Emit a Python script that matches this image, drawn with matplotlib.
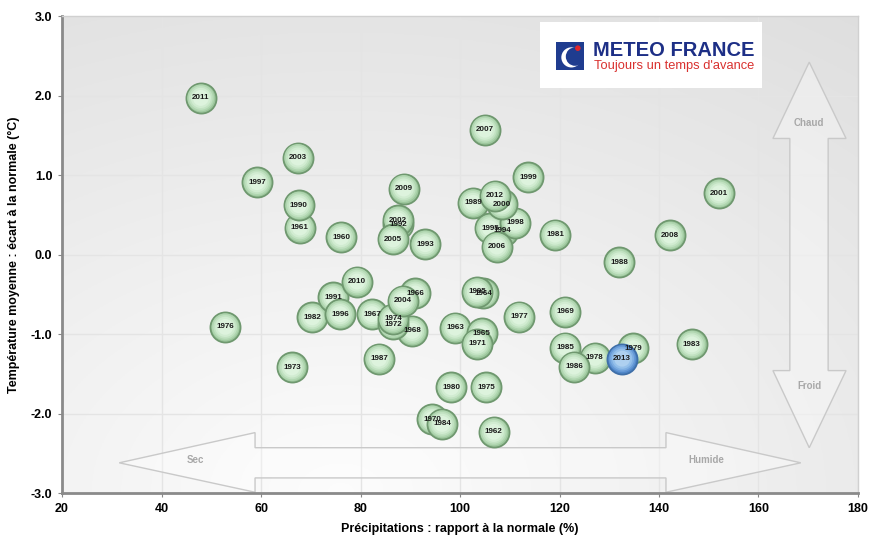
import numpy as np
import matplotlib
matplotlib.use("Agg")
import matplotlib.pyplot as plt
from matplotlib import font_manager
from matplotlib.patches import Polygon, Rectangle, Circle

# data
years = ['1960', '1961', '1962', '1963', '1964', '1965', '1966', '1967', '1968', '1969',
         '1970', '1971', '1972', '1973', '1974', '1975', '1976', '1977', '1978', '1979',
         '1980', '1981', '1982', '1983', '1984', '1985', '1986', '1987', '1988', '1989',
         '1990', '1991', '1992', '1993', '1994', '1995', '1995', '1996', '1997', '1998',
         '1999', '2000', '2001', '2002', '2003', '2004', '2005', '2006', '2007', '2008',
         '2009', '2010', '2011', '2012', '2013']
precip = [76.1, 67.8, 106.8, 99.0, 104.6, 104.4, 91.0, 82.3, 90.4, 121.1,
          94.4, 103.4, 86.5, 66.2, 86.5, 105.2, 52.8, 111.9, 127.1, 134.8,
          98.2, 119.1, 70.3, 146.6, 96.4, 121.1, 122.9, 83.7, 132.0, 102.6,
          67.6, 74.5, 87.5, 93.0, 108.6, 103.4, 106.0, 75.9, 59.2, 111.1,
          113.7, 108.4, 152.1, 87.5, 67.4, 88.5, 86.5, 107.4, 105.0, 142.2,
          88.7, 79.3, 47.9, 107.0, 132.6]
temp = [0.22, 0.34, -2.23, -0.92, -0.49, -0.99, -0.49, -0.75, -0.96, -0.72,
        -2.07, -1.12, -0.88, -1.42, -0.81, -1.67, -0.91, -0.78, -1.30, -1.18,
        -1.67, 0.25, -0.79, -1.13, -2.13, -1.17, -1.41, -1.31, -0.10, 0.65,
        0.62, -0.54, 0.38, 0.13, 0.30, -0.47, 0.33, -0.75, 0.91, 0.40,
        0.97, 0.63, 0.77, 0.43, 1.22, -0.58, 0.19, 0.10, 1.57, 0.24,
        0.83, -0.34, 1.97, 0.74, -1.31]
highlight = '2013'

xticks = [20, 40, 60, 80, 100, 120, 140, 160, 180]
yticks = [-3.0, -2.0, -1.0, 0.0, 1.0, 2.0, 3.0]

names = {f.name for f in font_manager.fontManager.ttflist}
narrow = 'Liberation Sans Narrow' if 'Liberation Sans Narrow' in names else 'Liberation Sans'

fig = plt.figure(figsize=(8.7, 5.4), dpi=100)
fig.patch.set_facecolor('white')
ax = fig.add_axes([0.0713, 0.087, 0.9149, 0.8833])
ax.set_xlim(20, 180)
ax.set_ylim(-3, 3)

# background gradient of the plot area
u = np.linspace(0, 1, 300)
v = np.linspace(0, 1, 200)
U, V = np.meshgrid(u, v)
dist = np.sqrt(((U - 0.35) / 0.9) ** 2 + V ** 2)
grey = np.clip(0.99 - 0.095 * dist, 0, 1)
bg = np.dstack([grey, grey, grey])
ax.imshow(bg, extent=[20, 180, -3, 3], origin='lower', aspect='auto', zorder=0)

for t in xticks:
    ax.axvline(t, color='#e4e4e4', lw=1, zorder=1)
for t in yticks:
    ax.axhline(t, color='#e4e4e4', lw=1, zorder=1)

# block arrows
arrow_kw = dict(closed=True, facecolor=(1, 1, 1, 0.35), edgecolor='#c9c9c9', lw=1, zorder=2)
horiz = [(31.5, -2.62), (58.8, -2.24), (58.8, -2.43), (141.4, -2.43), (141.4, -2.24),
         (168.5, -2.62), (141.4, -2.99), (141.4, -2.81), (58.8, -2.81), (58.8, -2.99)]
vert = [(170.2, 2.42), (177.6, 1.46), (174.0, 1.46), (174.0, -1.46), (177.6, -1.46),
        (170.2, -2.43), (162.9, -1.46), (166.3, -1.46), (166.3, 1.46), (162.9, 1.46)]
ax.add_patch(Polygon(horiz, **arrow_kw))
ax.add_patch(Polygon(vert, **arrow_kw))
lab_kw = dict(color='#a8a8a8', fontsize=7, fontweight='bold', family=narrow,
              ha='center', va='center', zorder=3)
ax.text(46.9, -2.58, 'Sec', **lab_kw)
ax.text(149.6, -2.58, 'Humide', **lab_kw)
ax.text(170.2, 1.65, 'Chaud', **lab_kw)
ax.text(170.2, -1.65, 'Froid', **lab_kw)

# shaded bubbles
green = ['#9cc69c', '#b0d6b0', '#c2e2c2', '#d1ecd1', '#ddf3dd']
blue = ['#4f86c8', '#6699d6', '#7eaee2', '#95c0ea', '#aed0f0']
scales = [1.0, 0.8, 0.62, 0.45, 0.28]
base = 470
for i, (yr, px, ty) in enumerate(zip(years, precip, temp)):
    cols = blue if yr == highlight else green
    edge = '#3f6fa8' if yr == highlight else '#6f986f'
    for k, (sc, c) in enumerate(zip(scales, cols)):
        ax.scatter(px, ty, s=base * sc, color=c,
                   edgecolors=edge if k == 0 else 'none',
                   linewidths=1.3 if k == 0 else 0, zorder=10 + i * 6 + k)
for yr, px, ty in zip(years, precip, temp):
    ax.text(px, ty, yr, fontsize=5.8, fontweight='bold', family=narrow,
            ha='center', va='center', color='#1a1a1a', zorder=1000)

ax.set_xticks(xticks)
ax.set_yticks(yticks)
ax.set_yticklabels([f'{t:.1f}' for t in yticks])
ax.tick_params(length=3, color='#888888', labelsize=9, pad=4)
for lbl in ax.get_xticklabels() + ax.get_yticklabels():
    lbl.set_fontweight('bold')
    lbl.set_family(narrow)
for side in ['left', 'bottom']:
    ax.spines[side].set_color('#8a8a8a')
    ax.spines[side].set_linewidth(2)
for side in ['top', 'right']:
    ax.spines[side].set_color('#d0d0d0')
    ax.spines[side].set_linewidth(1)

ax.set_xlabel('Précipitations : rapport à la normale (%)', fontsize=9,
              fontweight='bold', family=narrow, labelpad=6)
ax.set_ylabel('Température moyenne : écart à la normale (°C)', fontsize=9,
              fontweight='bold', family=narrow, labelpad=8)

# Meteo France logo box
box = fig.add_axes([540 / 870, 1 - 88 / 540, 222 / 870, 66 / 540])
box.set_facecolor('white')
box.set_xticks([])
box.set_yticks([])
for s in box.spines.values():
    s.set_visible(False)
logo = fig.add_axes([556 / 870, 1 - 70 / 540, 28 / 870, 28 / 540])
logo.set_xlim(0, 1)
logo.set_ylim(0, 1)
logo.axis('off')
logo.add_patch(Rectangle((0, 0), 1, 1, facecolor='#1f3c8f', edgecolor='none'))
logo.add_patch(Circle((0.55, 0.45), 0.36, facecolor='white', edgecolor='none'))
logo.add_patch(Circle((0.68, 0.48), 0.33, facecolor='#1f3c8f', edgecolor='none'))
logo.add_patch(Circle((0.78, 0.78), 0.1, facecolor='#e0262b', edgecolor='none'))
fig.text(593 / 870, 1 - 50 / 540, 'METEO FRANCE', fontsize=14.5, fontweight='bold',
         family='Liberation Sans', color='#1d2f86', va='center', ha='left', zorder=10)
fig.text(594 / 870, 1 - 66 / 540, "Toujours un temps d'avance", fontsize=9.3,
         family='Liberation Sans', color='#d9312f', va='center', ha='left', zorder=10)

fig.savefig('out.png', dpi=100, facecolor='white')
